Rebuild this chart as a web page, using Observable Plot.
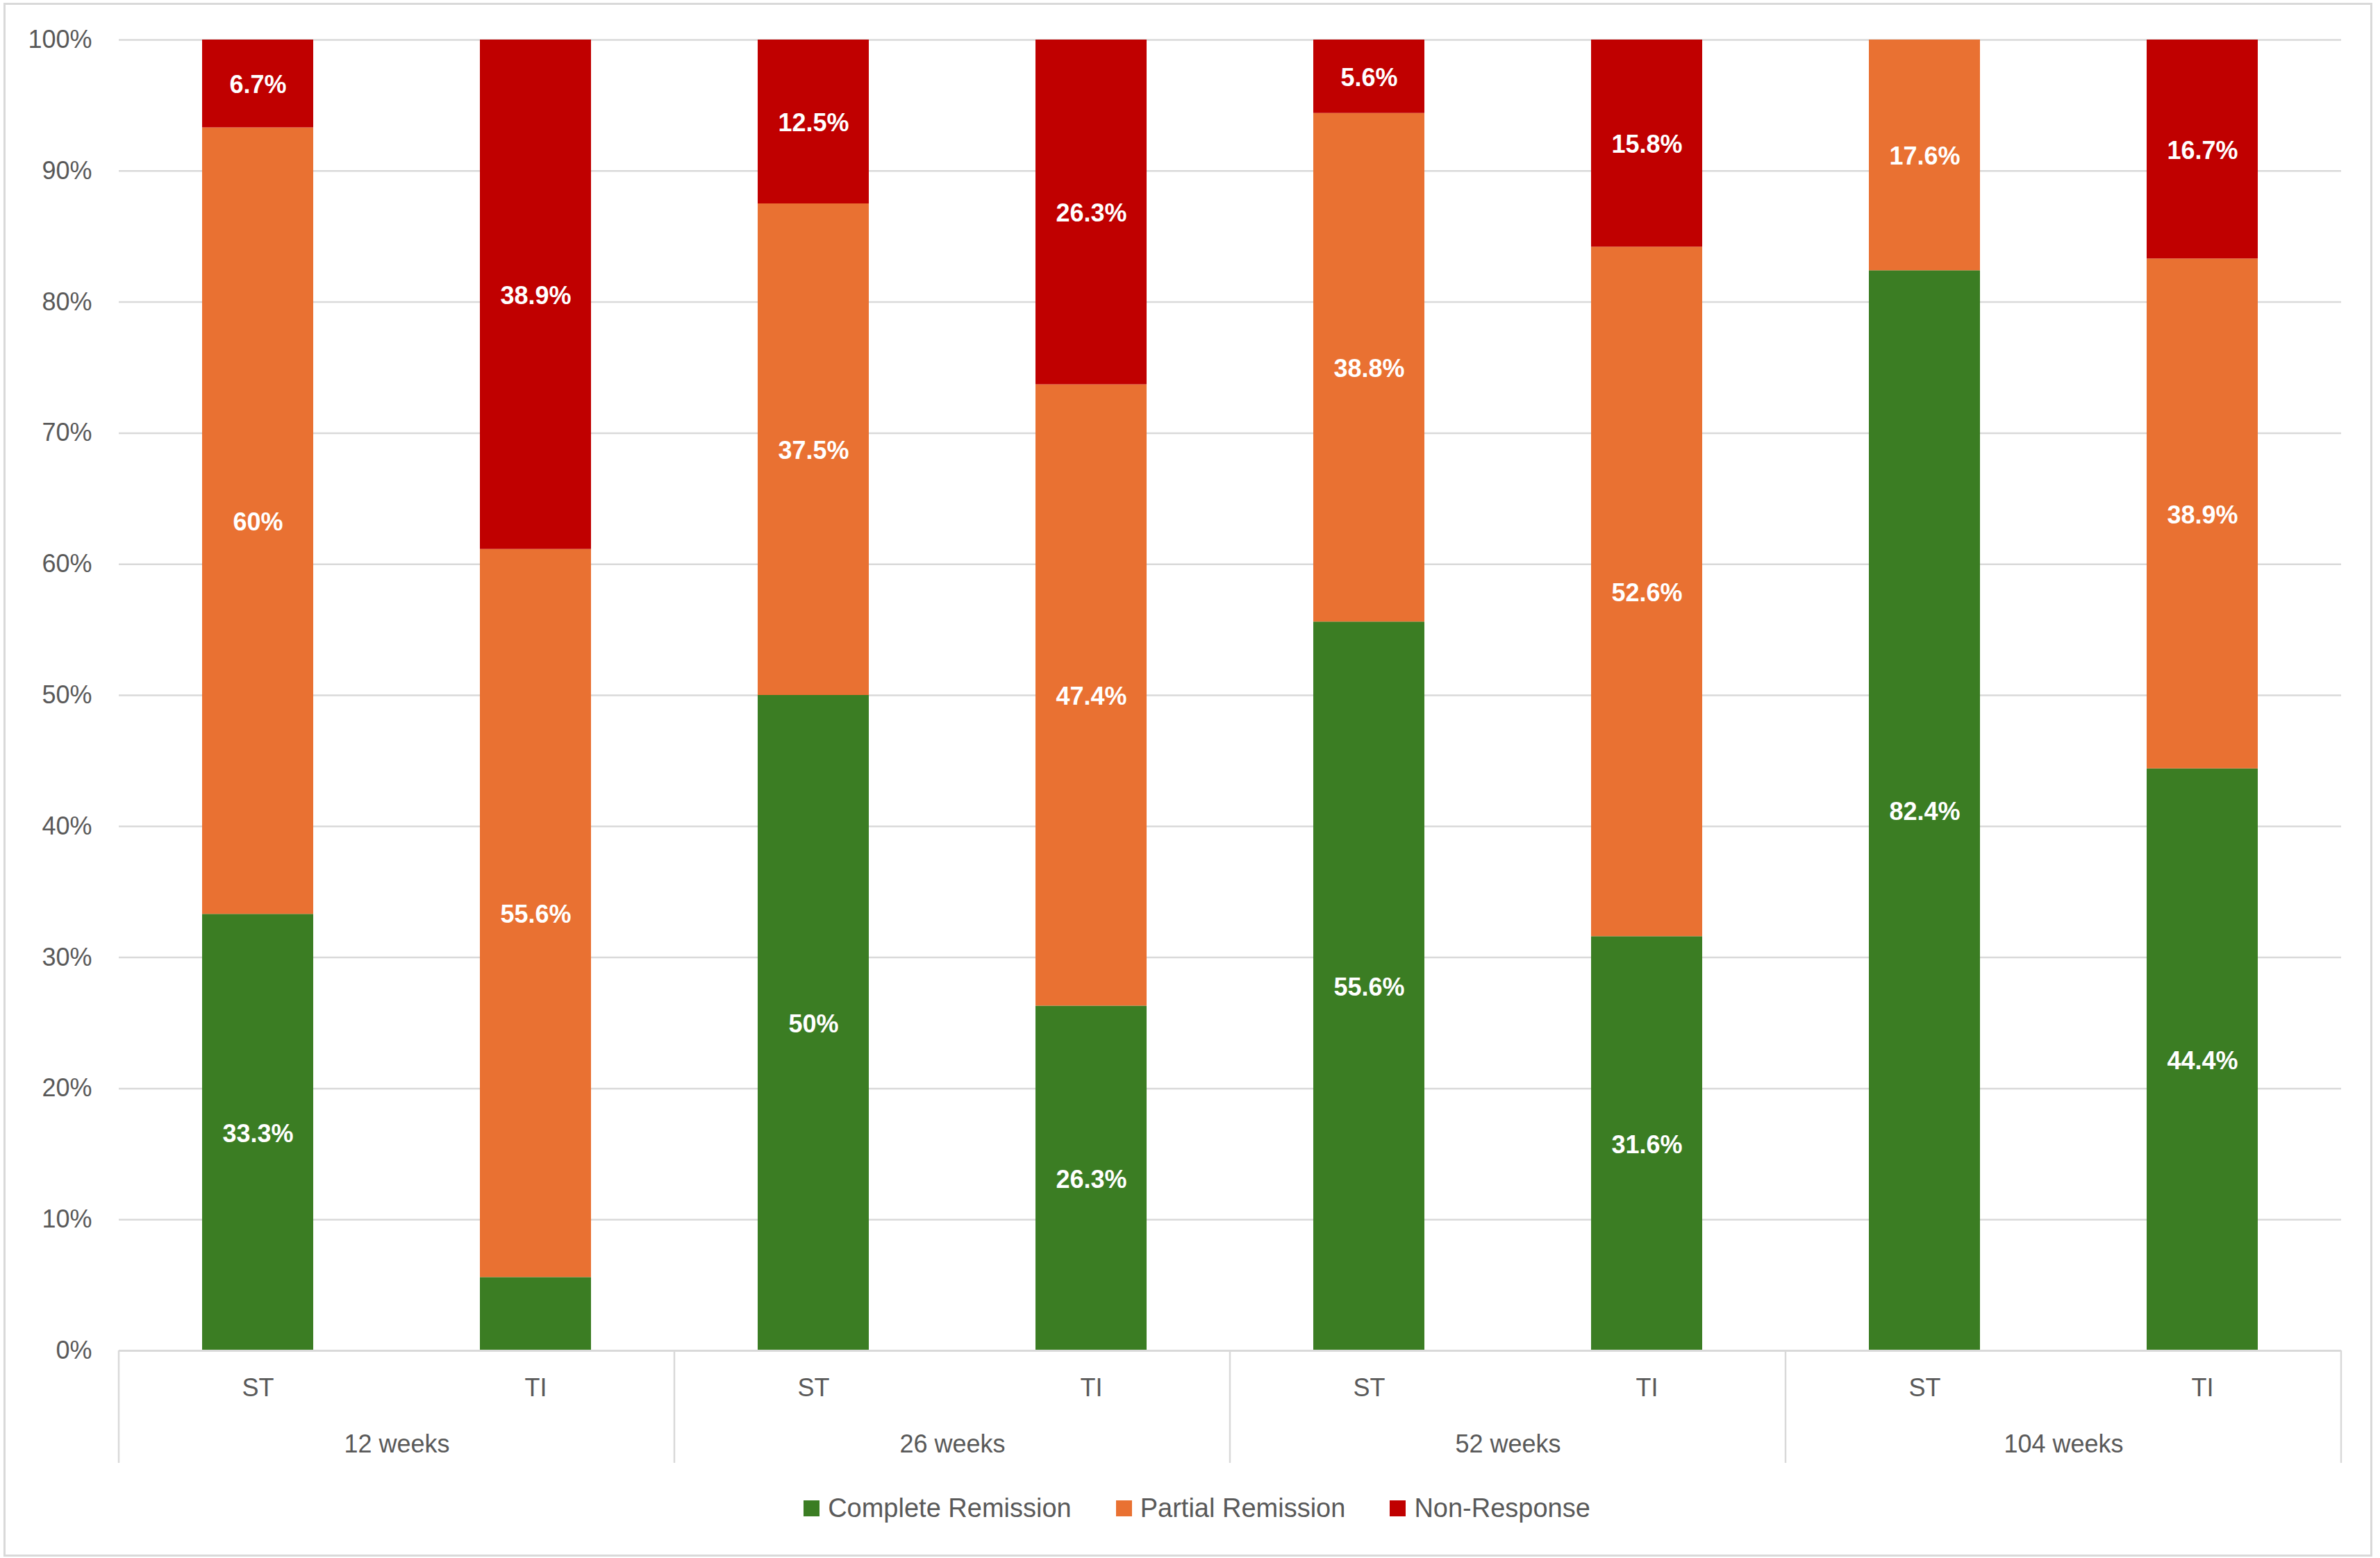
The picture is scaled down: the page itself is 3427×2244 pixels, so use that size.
<!DOCTYPE html>
<html>
<head>
<meta charset="utf-8">
<script src="https://cdn.jsdelivr.net/npm/d3@7"></script>
<script src="https://cdn.jsdelivr.net/npm/@observablehq/plot@0.6"></script>
<style>
  html, body { margin: 0; padding: 0; background: #ffffff; }
  body { position: relative; width: 3427px; height: 2244px; overflow: hidden; font-family: "Liberation Sans", Arial, sans-serif; }
  #frame { position: absolute; left: 5px; top: 4px; width: 3411px; height: 2238px; box-sizing: border-box; border: 3px solid #d9d9d9; }
  #chart { position: absolute; left: 0; top: 0; }
  #legend { position: absolute; left: 10px; top: 2150px; width: 3427px; height: 44px; display: flex; justify-content: center; align-items: center; color: #595959; font-size: 38px; }
  .item { display: flex; align-items: center; margin: 0 32px; }
  .swatch { width: 23px; height: 23px; margin-right: 12px; }
</style>
</head>
<body>
<div id="frame"></div>
<div id="chart"></div>
<div id="legend"></div>
<script>
// ---- data ----
const weeks = ["12 weeks", "26 weeks", "52 weeks", "104 weeks"];
const arms = ["ST", "TI"];
const statuses = ["Complete Remission", "Partial Remission", "Non-Response"];
const colors = ["#3B7D23", "#E97132", "#C00000"];
// order: 12w ST, 12w TI, 26w ST, 26w TI, 52w ST, 52w TI, 104w ST, 104w TI
const completeRemission = [33.3, 5.6, 50, 26.3, 55.6, 31.6, 82.4, 44.4];
const partialRemission  = [60, 55.6, 37.5, 47.4, 38.8, 52.6, 17.6, 38.9];
const nonResponse       = [6.7, 38.9, 12.5, 26.3, 5.6, 15.8, 0, 16.7];
// segments whose data label is not shown in the chart
const unlabeled = [["12 weeks", "TI", "Complete Remission"], ["104 weeks", "ST", "Non-Response"]];
const yTicks = [0, 0.1, 0.2, 0.3, 0.4, 0.5, 0.6, 0.7, 0.8, 0.9, 1];

// ---- table ----
const seriesValues = [completeRemission, partialRemission, nonResponse];
const rows = [];
statuses.forEach((status, s) => {
  weeks.forEach((week, w) => {
    arms.forEach((arm, a) => {
      const value = seriesValues[s][w * 2 + a];
      const hidden = unlabeled.some(u => u[0] === week && u[1] === arm && u[2] === status);
      rows.push({week, arm, status, value, label: hidden || value === 0 ? "" : `${value}%`});
    });
  });
});

const W = 3427, H = 2130;
const plot = Plot.plot({
  width: W,
  height: H,
  marginLeft: 170,
  marginRight: 56,
  marginTop: 57,
  marginBottom: 185,
  style: {fontFamily: "'Liberation Sans', Arial, sans-serif", fontSize: "36px", color: "#595959", background: "transparent"},
  fx: {domain: weeks, padding: 0, label: null},
  x: {domain: arms, paddingInner: 0.6, paddingOuter: 0.3, label: null},
  y: {domain: [0, 1], label: null},
  color: {domain: statuses, range: colors},
  marks: [
    Plot.gridY(yTicks, {stroke: "#d9d9d9", strokeOpacity: 1, strokeWidth: 2.5}),
    Plot.barY(rows, Plot.stackY({offset: "normalize", order: null}, {fx: "week", x: "arm", y: "value", z: "status", fill: "status"})),
    Plot.text(rows, Plot.stackY({offset: "normalize", order: null}, {fx: "week", x: "arm", y: "value", z: "status", text: "label", fill: "white", fontWeight: "bold", fontSize: 36, dy: 2})),
    Plot.ruleY([0], {stroke: "#d9d9d9", strokeWidth: 3}),
    Plot.axisY({ticks: yTicks, tickSize: 0, tickPadding: 39, tickFormat: d3.format(".0%"), label: null}),
    Plot.axisX({tickSize: 0, tickPadding: 40, label: null}),
    Plot.axisFx({anchor: "bottom", tickSize: 0, tickPadding: 121, label: null})
  ]
});
document.getElementById("chart").appendChild(plot);

// group separators below the baseline, positioned through Plot's scales
const fx = plot.scale("fx"), y = plot.scale("y");
const base = y.apply(0);
const edges = weeks.map(w => fx.apply(w)).concat([fx.apply(weeks[weeks.length - 1]) + fx.bandwidth]);
d3.select(plot).append("g")
  .selectAll("line").data(edges).join("line")
  .attr("x1", d => d).attr("x2", d => d)
  .attr("y1", base).attr("y2", base + 162)
  .attr("stroke", "#d9d9d9").attr("stroke-width", 2.5);

// legend
const legend = d3.select("#legend");
statuses.forEach((s, i) => {
  const item = legend.append("div").attr("class", "item");
  item.append("div").attr("class", "swatch").style("background", colors[i]);
  item.append("span").text(s);
});
</script>
</body>
</html>
